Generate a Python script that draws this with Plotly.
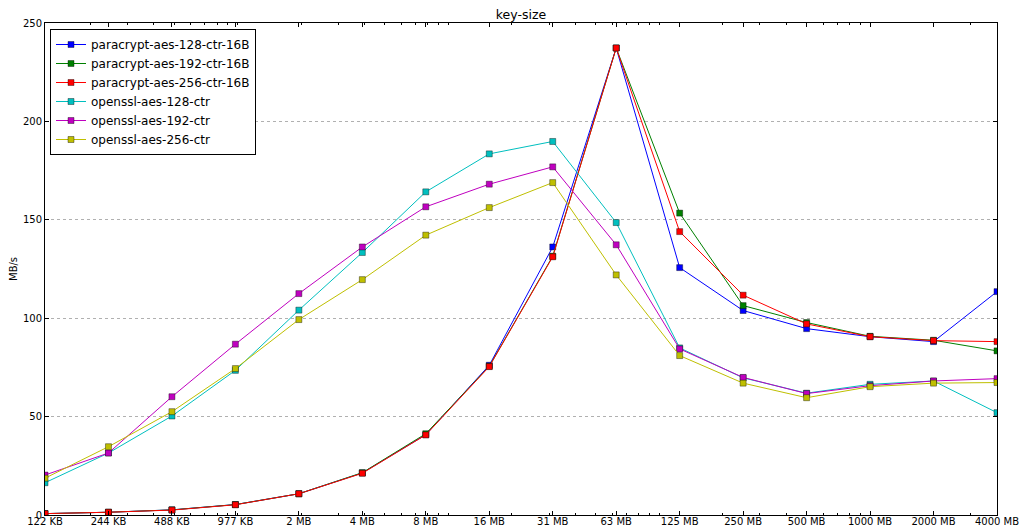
import plotly.graph_objects as go
import math

# ---- data ----
size_labels = ["122 KB", "244 KB", "488 KB", "977 KB", "2 MB", "4 MB", "8 MB", "16 MB",
               "31 MB", "63 MB", "125 MB", "250 MB", "500 MB", "1000 MB", "2000 MB", "4000 MB"]
size_mb = [0.1220703125, 0.244140625, 0.48828125, 0.9765625, 1.953125, 3.90625, 7.8125, 15.625,
           31.25, 62.5, 125, 250, 500, 1000, 2000, 4000]

paracrypt_128 = [0.7, 1.4, 2.6, 5.3, 10.8, 21.4, 40.8, 76.1, 136.2, 237.3, 125.7, 103.9, 94.7, 90.6, 88.1, 113.5]
paracrypt_192 = [0.7, 1.4, 2.6, 5.3, 10.8, 21.5, 41.3, 75.6, 131.5, 237.3, 153.4, 106.4, 97.8, 90.8, 88.8, 83.4]
paracrypt_256 = [0.7, 1.4, 2.5, 5.2, 10.8, 21.2, 40.7, 75.4, 131.2, 237.3, 144.0, 111.7, 97.1, 90.6, 88.6, 88.1]
openssl_128 = [16.4, 31.5, 50.3, 73.5, 104.1, 133.4, 164.2, 183.5, 189.8, 148.6, 84.9, 69.7, 61.9, 66.4, 68.1, 52.0]
openssl_192 = [20.3, 31.5, 60.1, 86.8, 112.5, 136.2, 156.6, 168.1, 176.9, 137.3, 84.4, 69.9, 61.7, 65.7, 68.1, 69.3]
openssl_256 = [18.7, 34.7, 52.5, 74.4, 99.3, 119.6, 142.2, 156.2, 168.9, 122.0, 81.0, 67.0, 59.6, 65.2, 67.0, 67.3]

series = [
    ("paracrypt-aes-128-ctr-16B", paracrypt_128, "#0000ff"),
    ("paracrypt-aes-192-ctr-16B", paracrypt_192, "#008000"),
    ("paracrypt-aes-256-ctr-16B", paracrypt_256, "#ff0000"),
    ("openssl-aes-128-ctr", openssl_128, "#00bfbf"),
    ("openssl-aes-192-ctr", openssl_192, "#bf00bf"),
    ("openssl-aes-256-ctr", openssl_256, "#bfbf00"),
]

FONT = "DejaVu Sans"

fig = go.Figure()
for name, vals, col in series:
    fig.add_trace(go.Scatter(
        x=size_mb, y=vals, name=name, mode="lines+markers",
        line=dict(color=col, width=1),
        marker=dict(symbol="square", size=6, color=col,
                    line=dict(color="rgba(0,0,0,0.55)", width=0.7)),
    ))

# log-decade minor ticks (axis decoration)
minor_ticks = []
for k in range(-1, 4):
    for d in range(1, 10):
        v = d * 10 ** k
        if size_mb[0] <= v <= size_mb[-1]:
            minor_ticks.append(v)

plot_l, plot_r, plot_t, plot_b = 45, 997, 23, 515
W, H = 1021, 528

fig.update_layout(
    width=W, height=H,
    margin=dict(l=plot_l, r=W - plot_r, t=plot_t, b=H - plot_b, autoexpand=False),
    paper_bgcolor="white", plot_bgcolor="white",
    font=dict(family=FONT, size=10, color="black"),
    title=dict(text="key-size", x=(plot_l + plot_r) / 2 / W, xanchor="center",
               y=1 - 15 / H, yanchor="middle", font=dict(family=FONT, size=12.5, color="black")),
    showlegend=True,
    legend=dict(x=(50 - plot_l) / (plot_r - plot_l), y=(plot_b - 29) / (plot_b - plot_t),
                xanchor="left", yanchor="top",
                bgcolor="white", bordercolor="black", borderwidth=1,
                font=dict(family=FONT, size=12, color="black"),
                tracegroupgap=0, itemwidth=30),
    xaxis=dict(
        type="log",
        range=[math.log10(size_mb[0]), math.log10(size_mb[-1])],
        tickmode="array", tickvals=size_mb, ticktext=size_labels,
        ticks="inside", ticklen=4, tickcolor="black", tickwidth=1,
        ticklabelstandoff=-3,
        showline=True, linecolor="black", linewidth=1, mirror="ticks",
        showgrid=False, zeroline=False,
        tickfont=dict(family=FONT, size=10, color="black"),
        minor=dict(tickmode="array", tickvals=minor_ticks, ticks="inside",
                   ticklen=2, tickcolor="black", showgrid=False),
    ),
    yaxis=dict(
        range=[0, 250], tickmode="linear", tick0=0, dtick=50,
        ticks="inside", ticklen=4, tickcolor="black", tickwidth=1,
        showline=True, linecolor="black", linewidth=1, mirror="ticks",
        showgrid=True, gridcolor="#b0b0b0", griddash="dot", gridwidth=1,
        zeroline=False,
        tickfont=dict(family=FONT, size=10, color="black"),
    ),
    annotations=[dict(text="MB/s", xref="paper", yref="paper",
                      x=(13 - plot_l) / (plot_r - plot_l), y=0.5,
                      xanchor="center", yanchor="middle", textangle=-90,
                      showarrow=False, font=dict(family=FONT, size=10, color="black"))],
)

fig.write_html("out.html")
